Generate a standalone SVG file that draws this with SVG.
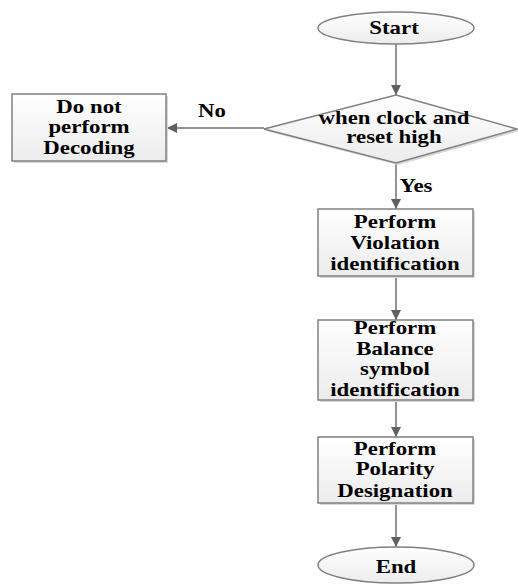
<svg xmlns="http://www.w3.org/2000/svg" width="518" height="586" viewBox="0 0 518 586">
  <style>
    .shape { stroke: #808080; stroke-width: 1.5; fill: url(#grad); }
    .shadow { fill: #d8d8d8; stroke: none; }
    .conn { stroke: #707070; stroke-width: 1.5; fill: none; }
    text { font-family: 'Liberation Serif', 'Times New Roman', Times, serif; font-weight: 700; font-size: 18px; fill: #000; text-anchor: middle; }
  </style>
  <defs>
    <linearGradient id="grad" x1="0" y1="0" x2="0" y2="1">
      <stop offset="0" stop-color="#ffffff"/>
      <stop offset="1" stop-color="#ececec"/>
    </linearGradient>
    <marker id="arr" viewBox="0 0 10 10" refX="10" refY="5" markerWidth="10" markerHeight="10" markerUnits="userSpaceOnUse" orient="auto">
      <path d="M0,0 L10,5 L0,10 z" fill="#606060"/>
    </marker>
  </defs>
  <rect width="518" height="586" fill="#ffffff"/>

  <g id="connectors">
    <line class="conn" x1="396" y1="44" x2="396" y2="95" marker-end="url(#arr)"/>
    <line class="conn" x1="264" y1="128" x2="167" y2="128" marker-end="url(#arr)"/>
    <line class="conn" x1="396" y1="163" x2="396" y2="209" marker-end="url(#arr)"/>
    <line class="conn" x1="396" y1="276" x2="396" y2="320" marker-end="url(#arr)"/>
    <line class="conn" x1="396" y1="400" x2="396" y2="437" marker-end="url(#arr)"/>
    <line class="conn" x1="396" y1="503" x2="396" y2="547" marker-end="url(#arr)"/>
    <g transform="translate(212,117) scale(1.27,1)"><text x="0" y="0">No</text></g>
    <g transform="translate(416,192) scale(1.27,1)"><text x="0" y="0">Yes</text></g>
  </g>

  <g id="start">
    <ellipse class="shape" cx="396" cy="28" rx="78" ry="16"/>
    <g transform="translate(394,0) scale(1.27,1)"><text x="0" y="34">Start</text></g>
  </g>

  <g id="decision">
    <polygon class="shadow" points="398,97 520,131 398,165 266,131"/>
    <polygon class="shape" points="396,95 517,129 396,163 264,129"/>
    <g transform="translate(394,0) scale(1.27,1)">
      <text x="0" y="124">when clock and</text>
      <text x="0" y="143">reset high</text>
    </g>
  </g>

  <g id="no-decode">
    <rect class="shadow" x="14" y="96" width="154" height="67"/>
    <rect class="shape" x="12" y="94" width="154" height="67"/>
    <g transform="translate(89,0) scale(1.27,1)">
      <text x="0" y="113">Do not</text>
      <text x="0" y="133">perform</text>
      <text x="0" y="154">Decoding</text>
    </g>
  </g>

  <g id="violation">
    <rect class="shadow" x="320" y="211" width="155" height="67"/>
    <rect class="shape" x="318" y="209" width="155" height="67"/>
    <g transform="translate(395,0) scale(1.27,1)">
      <text x="0" y="228">Perform</text>
      <text x="0" y="249">Violation</text>
      <text x="0" y="270">identification</text>
    </g>
  </g>

  <g id="balance">
    <rect class="shadow" x="320" y="322" width="155" height="80"/>
    <rect class="shape" x="318" y="320" width="155" height="80"/>
    <g transform="translate(395,0) scale(1.27,1)">
      <text x="0" y="334">Perform</text>
      <text x="0" y="355">Balance</text>
      <text x="0" y="375">symbol</text>
      <text x="0" y="396">identification</text>
    </g>
  </g>

  <g id="polarity">
    <rect class="shadow" x="320" y="439" width="155" height="66"/>
    <rect class="shape" x="318" y="437" width="155" height="66"/>
    <g transform="translate(395,0) scale(1.27,1)">
      <text x="0" y="455">Perform</text>
      <text x="0" y="475">Polarity</text>
      <text x="0" y="497">Designation</text>
    </g>
  </g>

  <g id="end">
    <ellipse class="shape" cx="396" cy="565" rx="78" ry="18"/>
    <g transform="translate(396,0) scale(1.27,1)"><text x="0" y="573">End</text></g>
  </g>
</svg>
